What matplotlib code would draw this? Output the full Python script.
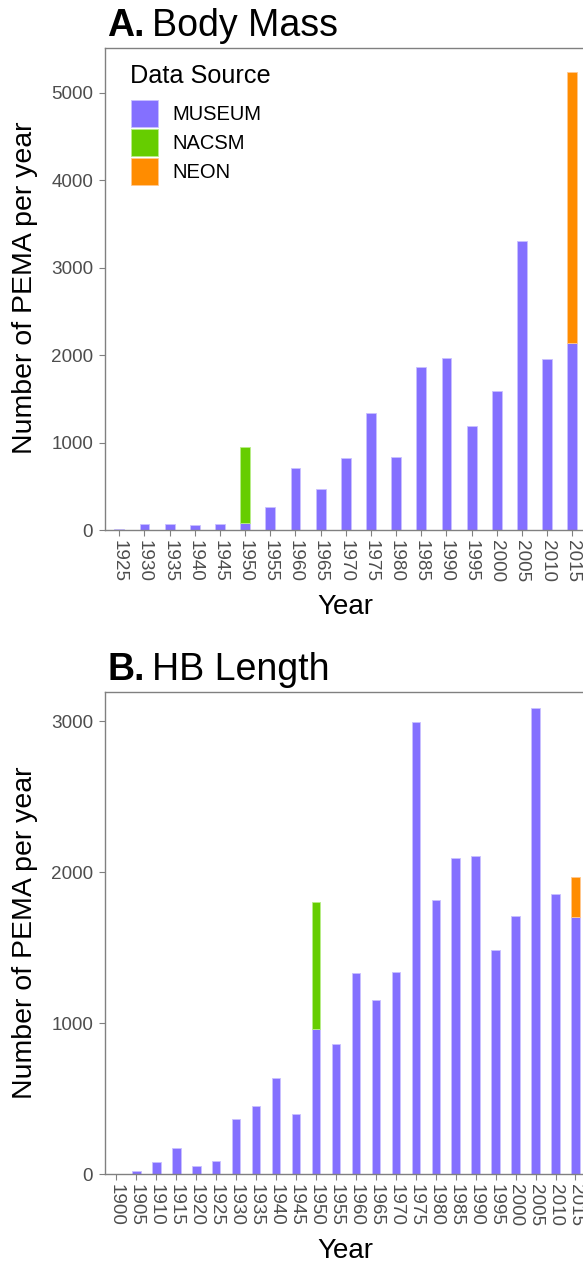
import matplotlib
matplotlib.use("Agg")
import matplotlib.pyplot as plt
from matplotlib.patches import Patch
import numpy as np

plt.rcParams['font.family'] = ['Liberation Sans', 'DejaVu Sans']

# data (counts per 5-year bin)
sources = ["MUSEUM", "NACSM", "NEON"]
colors = {"MUSEUM": "#8470FF", "NACSM": "#66CD00", "NEON": "#FF8C00"}
edges = {"MUSEUM": "#C9C0FF", "NACSM": "#B8EE88", "NEON": "#FFC890"}

mass_years = [1925, 1930, 1935, 1940, 1945, 1950, 1955, 1960, 1965, 1970,
              1975, 1980, 1985, 1990, 1995, 2000, 2005, 2010, 2015]
mass_museum = [10, 65, 72, 57, 65, 84, 267, 714, 469, 824,
               1336, 836, 1859, 1966, 1187, 1592, 3306, 1954, 2134]
mass_nacsm = [0, 0, 0, 0, 0, 870, 0, 0, 0, 0,
              0, 0, 0, 0, 0, 0, 0, 0, 0]
mass_neon = [0, 0, 0, 0, 0, 0, 0, 0, 0, 0,
             0, 0, 0, 0, 0, 0, 0, 0, 3104]

hb_years = [1900, 1905, 1910, 1915, 1920, 1925, 1930, 1935, 1940, 1945,
            1950, 1955, 1960, 1965, 1970, 1975, 1980, 1985, 1990, 1995,
            2000, 2005, 2010, 2015]
hb_museum = [0, 24, 82, 177, 53, 91, 366, 453, 640, 397,
             965, 863, 1331, 1155, 1340, 2995, 1815, 2097, 2106, 1486,
             1711, 3086, 1856, 1706]
hb_nacsm = [0, 0, 0, 0, 0, 0, 0, 0, 0, 0,
            840, 0, 0, 0, 0, 0, 0, 0, 0, 0,
            0, 0, 0, 0]
hb_neon = [0, 0, 0, 0, 0, 0, 0, 0, 0, 0,
           0, 0, 0, 0, 0, 0, 0, 0, 0, 0,
           0, 0, 0, 263]

W, H = 583, 1262
fig = plt.figure(figsize=(W / 100, H / 100), dpi=100)

grey = "#4D4D4D"
spine_col = "#808080"


def px(x, y):
    return x / W, 1 - y / H


def stacked(ax, years, series, width):
    years = np.array(years)
    bottom = np.zeros(len(years))
    for name, vals in zip(sources, series):
        vals = np.array(vals, dtype=float)
        keep = vals > 0
        ax.bar(years[keep], vals[keep], width, bottom=bottom[keep], color=colors[name],
               edgecolor=edges[name], linewidth=0.6)
        bottom += vals


def style(ax, years, xlim, ylim, yticks):
    ax.set_xlim(*xlim)
    ax.set_ylim(*ylim)
    ax.set_xticks(years)
    ax.set_xticklabels([str(y) for y in years], rotation=-90, fontsize=13.6, color=grey)
    ax.set_yticks(yticks)
    ax.set_yticklabels([str(t) for t in yticks], fontsize=13.6, color=grey)
    ax.tick_params(axis='x', length=4.5, width=0.8, color=spine_col, pad=2.5)
    ax.tick_params(axis='y', length=4.5, width=0.8, color=spine_col, pad=4)
    for s in ["left", "top", "bottom"]:
        ax.spines[s].set_color(spine_col)
        ax.spines[s].set_linewidth(1.0)
    ax.spines["right"].set_visible(False)


def title(ybase, letter, rest):
    fig.text(*px(107, ybase), letter, fontsize=27, fontweight='bold', va='baseline')
    fig.text(*px(152, ybase), rest, fontsize=27, va='baseline')


left = 105

# Panel A
axA = fig.add_axes([left / W, (H - 530) / H, (W - left) / W, (530 - 48) / H])
stacked(axA, mass_years, [mass_museum, mass_nacsm, mass_neon], 1.95)
style(axA, mass_years, (1922.16, 2017.13), (0, 5509), [0, 1000, 2000, 3000, 4000, 5000])
title(36, "A.", "Body Mass")
fig.text(*px(25, 288), "Number of PEMA per year", rotation=90, fontsize=20.5,
         ha='center', va='center')
fig.text(*px(345.5, 614.5), "Year", fontsize=20, ha='center', va='baseline')

# legend: title drawn as text, keys via legend
fig.text(*px(130, 83.3), "Data Source", fontsize=18.2, va='baseline')
handles = [Patch(facecolor=colors[s], edgecolor=edges[s], linewidth=0.6) for s in sources]
axA.legend(handles, sources, loc='upper left',
           bbox_to_anchor=px(131, 100), bbox_transform=fig.transFigure,
           frameon=False, fontsize=14.5, borderpad=0, borderaxespad=0,
           handlelength=1.36, handleheight=1.685, labelspacing=0.11,
           handletextpad=0.68)

# Panel B
axB = fig.add_axes([left / W, (H - 1174.3) / H, (W - left) / W, (1174.3 - 691.7) / H])
stacked(axB, hb_years, [hb_museum, hb_nacsm, hb_neon], 2.14)
style(axB, hb_years, (1897.14, 2016.88), (0, 3196), [0, 1000, 2000, 3000])
title(680, "B.", "HB Length")
fig.text(*px(25, 933), "Number of PEMA per year", rotation=90, fontsize=20.5,
         ha='center', va='center')
fig.text(*px(345.5, 1258), "Year", fontsize=20, ha='center', va='baseline')

fig.savefig("out.png", dpi=100)
